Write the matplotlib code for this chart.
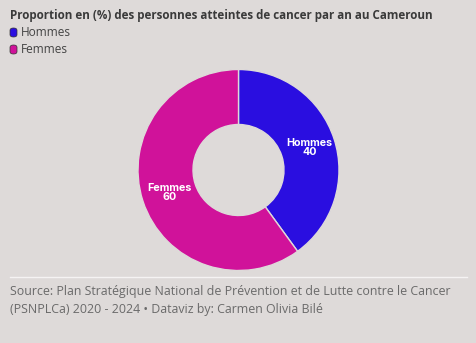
import matplotlib
matplotlib.use("Agg")
import matplotlib.pyplot as plt
from matplotlib.patches import FancyBboxPatch
from matplotlib.lines import Line2D
import numpy as np

categories = ["Hommes", "Femmes"]
values = [40, 60]
colors = ["#2a0ee0", "#d0129a"]

W, H = 477, 343
bg = "#dedad9"
fig = plt.figure(figsize=(W/100, H/100), dpi=100, facecolor=bg)
plt.rcParams['font.family'] = ['Open Sans', 'DejaVu Sans']

r = 100.5
cx, cy = 238.5, 170
ax = fig.add_axes([(cx - r)/W, 1 - (cy + r)/H, 2*r/W, 2*r/H])
ax.set_facecolor(bg)
wedges, _ = ax.pie(values, colors=colors, startangle=90, counterclock=False,
                   radius=1.0, wedgeprops=dict(width=1 - 45.5/100.5, edgecolor=bg, linewidth=1))
ax.set_xlim(-1, 1); ax.set_ylim(-1, 1)
ax.set_aspect('equal')
ax.axis('off')

label_r = 0.72
cum = 0
for cat, v in zip(categories, values):
    mid = 90 - (cum + v/2) / sum(values) * 360
    cum += v
    x, y = label_r*np.cos(np.radians(mid)), label_r*np.sin(np.radians(mid))
    ax.text(x + (0.02 if x > 0 else 0), y, f"{cat}\n{v}", ha='center', va='center', color='white',
            fontsize=7.7, fontweight='bold', family=['Inter', 'DejaVu Sans'], linespacing=0.85)

def fy(py):
    return 1 - py/H

fig.text(10/W, fy(16), "Proportion en (%) des personnes atteintes de cancer par an au Cameroun",
         fontsize=8.4, fontweight='bold', color='#3a3a3a', va='center', ha='left')
for i, (cat, c) in enumerate(zip(categories, colors)):
    py = 32.5 + i*17
    fig.patches.append(FancyBboxPatch((10/W, fy(py+4.5)), 7/W, 9/H, boxstyle="round,pad=0,rounding_size=0.007",
                                      transform=fig.transFigure, facecolor=c, edgecolor='#333333', linewidth=0.5))
    fig.text(21/W, fy(py), cat, fontsize=8.6, color='#444444', va='center', ha='left')

fig.add_artist(Line2D([10/W, 467/W], [fy(277), fy(277)], color='#f5f3f3', linewidth=1, transform=fig.transFigure))
fig.text(10/W, fy(292), "Source: Plan Stratégique National de Prévention et de Lutte contre le Cancer",
         fontsize=8.9, color='#6a6a6a', va='center', ha='left')
fig.text(10/W, fy(310), "(PSNPLCa) 2020 - 2024 • Dataviz by: Carmen Olivia Bilé",
         fontsize=8.9, color='#6a6a6a', va='center', ha='left')

fig.savefig("out.png", dpi=100, facecolor=bg)
